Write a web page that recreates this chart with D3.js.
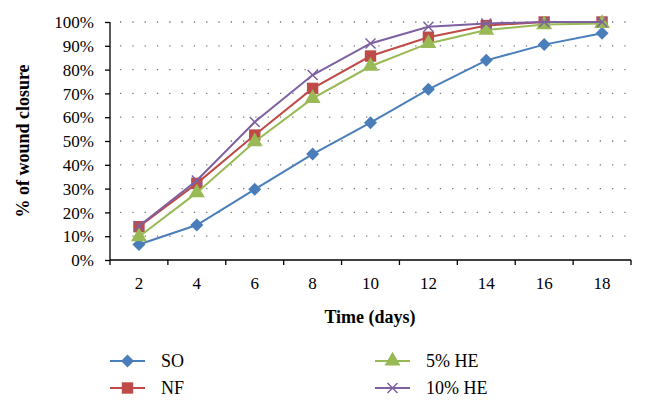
<!DOCTYPE html>
<html>
<head>
<meta charset="utf-8">
<script src="https://cdn.jsdelivr.net/npm/d3@7"></script>
<style>
  body { margin: 0; background: #fff; }
</style>
</head>
<body>
<div id="chart"></div>
<script>
// dati
var days = [2, 4, 6, 8, 10, 12, 14, 16, 18];
var yTicks = [0, 10, 20, 30, 40, 50, 60, 70, 80, 90, 100];
var seriesNames = ["SO", "NF", "5% HE", "10% HE"];
var soValues = [6.5, 14.7, 29.7, 44.5, 57.7, 71.7, 83.9, 90.5, 95.3];
var nfValues = [14, 32.2, 52.5, 72.1, 85.7, 93.6, 98.5, 100, 100];
var he5Values = [9.8, 28.3, 49.7, 67.9, 81.4, 91, 96.6, 98.9, 99.4];
var he10Values = [14.3, 33.4, 58, 77.7, 91, 98, 99.4, 100, 100];

var colors = ["#4a7ebb", "#be4b48", "#98b954", "#7d60a0"];
var symbols = ["diamond", "square", "triangle", "cross"];
var fontSerif = "Liberation Serif";

var series = [soValues, nfValues, he5Values, he10Values].map(function(v, i) {
  return { name: seriesNames[i], values: v, color: colors[i], symbol: symbols[i] };
});

var W = 646, H = 409;
var margin = {top: 22, right: 15, bottom: 149, left: 110};

var svg = d3.select("#chart")
  .append("svg")
  .attr("width", W)
  .attr("height", H)
  .attr("font-family", fontSerif);

var g = svg.append("g")
  .attr("transform", "translate(" + margin.left + "," + margin.top + ")");

var x = d3.scaleBand()
  .domain(days)
  .range([0, 521]);

var y = d3.scaleLinear()
  .domain([0, 100])
  .range([238, 0]);

// griglia a puntini
g.append("g")
  .selectAll("line")
  .data(yTicks.slice(1))
  .enter()
  .append("line")
  .attr("x1", 10)
  .attr("x2", 521)
  .attr("y1", function(d) { return y(d); })
  .attr("y2", function(d) { return y(d); })
  .attr("stroke", "#777")
  .attr("stroke-width", 1.3)
  .attr("stroke-dasharray", "1.3,11");

// asse Y
var yAxis = g.append("g")
  .call(d3.axisLeft(y).tickValues(yTicks).tickSize(5).tickPadding(11)
    .tickFormat(function(d) { return d + "%"; }));
yAxis.attr("font-family", fontSerif).attr("font-size", 17);
yAxis.select(".domain").attr("stroke", "#000").attr("stroke-width", 1.3).attr("d", "M0,238V0");
yAxis.selectAll(".tick line").attr("stroke", "#000").attr("stroke-width", 1.3);
yAxis.selectAll("text").attr("font-family", fontSerif).attr("dy", "0.33em");

// asse X
var xAxis = g.append("g")
  .attr("transform", "translate(0," + 238 + ")")
  .call(d3.axisBottom(x).tickSize(0).tickPadding(17));
xAxis.attr("font-family", fontSerif).attr("font-size", 17);
xAxis.select(".domain").attr("stroke", "#000").attr("stroke-width", 1.3).attr("d", "M0,0H521");
xAxis.selectAll("text").attr("font-family", fontSerif);
xAxis.selectAll(".sep")
  .data(d3.range(days.length + 1))
  .enter()
  .append("line")
  .attr("class", "sep")
  .attr("x1", function(i) { return i * x.step(); })
  .attr("x2", function(i) { return i * x.step(); })
  .attr("y1", 0)
  .attr("y2", 5)
  .attr("stroke", "#000")
  .attr("stroke-width", 1.3);

// titoli assi
svg.append("text")
  .attr("x", 370)
  .attr("y", 323)
  .attr("text-anchor", "middle")
  .attr("font-family", fontSerif)
  .attr("font-size", 18)
  .attr("font-weight", "bold")
  .text("Time (days)");

svg.append("text")
  .attr("transform", "translate(29,141) rotate(-90)")
  .attr("text-anchor", "middle")
  .attr("font-family", fontSerif)
  .attr("font-size", 18)
  .attr("font-weight", "bold")
  .text("% of wound closure");

// simboli
function markerPath(sym) {
  if (sym == "diamond") return "M0,-6.5L6.5,0L0,6.5L-6.5,0Z";
  if (sym == "square") return d3.symbol().type(d3.symbolSquare).size(130)();
  if (sym == "triangle") return d3.symbol().type(d3.symbolTriangle).size(110)();
  return "M-5,-5L5,5M-5,5L5,-5";
}

var line = d3.line()
  .x(function(d, i) { return x(days[i]) + x.bandwidth() / 2; })
  .y(function(d) { return y(d); });

var sg = g.selectAll(".serie")
  .data(series)
  .enter()
  .append("g")
  .attr("class", "serie");

sg.append("path")
  .attr("d", function(d) { return line(d.values); })
  .attr("fill", "none")
  .attr("stroke", function(d) { return d.color; })
  .attr("stroke-width", 2);

sg.each(function(s) {
  d3.select(this).selectAll(".pt")
    .data(s.values)
    .enter()
    .append("path")
    .attr("class", "pt")
    .attr("transform", function(d, i) {
      return "translate(" + (x(days[i]) + x.bandwidth() / 2) + "," + y(d) + ")";
    })
    .attr("d", markerPath(s.symbol))
    .attr("fill", s.symbol == "cross" ? "none" : s.color)
    .attr("stroke", s.color)
    .attr("stroke-width", s.symbol == "cross" ? 1.5 : 0);
});

// legenda
var legPos = [[110, 361], [110, 388], [375, 361], [375, 388]];
var leg = svg.selectAll(".leg")
  .data(series)
  .enter()
  .append("g")
  .attr("class", "leg")
  .attr("transform", function(d, i) { return "translate(" + legPos[i][0] + "," + legPos[i][1] + ")"; });

leg.append("line")
  .attr("x1", 0)
  .attr("x2", 35)
  .attr("stroke", function(d) { return d.color; })
  .attr("stroke-width", 2);

leg.append("path")
  .attr("transform", "translate(17.5,0)")
  .attr("d", function(d) { return markerPath(d.symbol); })
  .attr("fill", function(d) { return d.symbol == "cross" ? "none" : d.color; })
  .attr("stroke", function(d) { return d.color; })
  .attr("stroke-width", function(d) { return d.symbol == "cross" ? 1.5 : 0; });

leg.append("text")
  .attr("x", 51)
  .attr("dy", "0.35em")
  .attr("font-family", fontSerif)
  .attr("font-size", 18)
  .text(function(d) { return d.name; });
</script>
</body>
</html>
